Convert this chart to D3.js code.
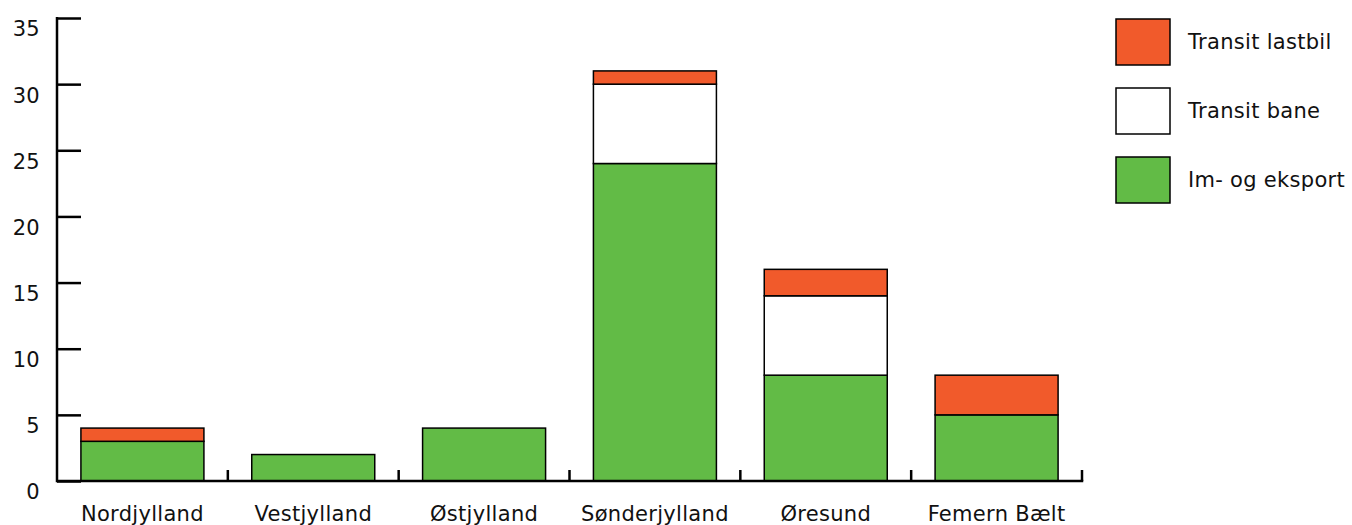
<!DOCTYPE html>
<html>
<head>
<meta charset="utf-8">
<script src="https://cdn.jsdelivr.net/npm/d3@7"></script>
<style>
  html, body { margin: 0; padding: 0; background: #fff; }
  svg { display: block; font-family: "DejaVu Sans", Verdana, sans-serif; letter-spacing: 0.3px; }
</style>
</head>
<body>
<svg id="chart" width="1352" height="525"></svg>
<script>
// Regions along the x axis
const categories = ["Nordjylland", "Vestjylland", "Østjylland", "Sønderjylland", "Øresund", "Femern Bælt"];
// Stacked series, bottom to top
const imEksport      = [3, 2, 4, 24, 8, 5];
const transitBane    = [0, 0, 0, 6, 6, 0];
const transitLastbil = [1, 0, 0, 1, 2, 3];
const seriesNames = ["Im- og eksport", "Transit bane", "Transit lastbil"];
const seriesColors = ["#62BB46", "#FFFFFF", "#F15A2B"];
const yTicks = [0, 5, 10, 15, 20, 25, 30, 35];

const svg = d3.select("#chart");
const margin = { left: 57, right: 270, top: 18, bottom: 44 };
const W = 1352, H = 525;
const fontSize = 21;

const x = d3.scaleBand().domain(categories)
  .range([margin.left, W - margin.right])
  .paddingInner(0.28).paddingOuter(0.14);
const y = d3.scaleLinear().domain([0, 35]).range([H - margin.bottom, margin.top]);

const rows = categories.map((c, i) => ({
  cat: c,
  "Im- og eksport": imEksport[i],
  "Transit bane": transitBane[i],
  "Transit lastbil": transitLastbil[i]
}));
const stack = d3.stack().keys(seriesNames)(rows);

// Bars
svg.append("g").selectAll("g").data(stack).join("g")
  .attr("fill", (d, i) => seriesColors[i])
  .selectAll("rect").data(d => d.filter(p => p[1] - p[0] > 0)).join("rect")
  .attr("x", d => x(d.data.cat))
  .attr("width", x.bandwidth())
  .attr("y", d => y(d[1]))
  .attr("height", d => y(d[0]) - y(d[1]))
  .attr("stroke", "#000")
  .attr("stroke-width", 1.5);

// Y axis with inward ticks, labels sitting slightly below each tick
const yAxis = svg.append("g").attr("transform", `translate(${margin.left},0)`)
  .call(d3.axisRight(y).tickValues(yTicks).tickSize(24).tickFormat(d3.format("d")));
yAxis.select(".domain").remove();
yAxis.selectAll(".tick line").attr("stroke", "#000").attr("stroke-width", 2.5);
yAxis.selectAll(".tick text")
  .attr("x", -17).attr("dy", "0.85em").attr("text-anchor", "end")
  .attr("font-size", fontSize).attr("font-family", "DejaVu Sans, Verdana, sans-serif").attr("fill", "#111");
svg.append("line")
  .attr("x1", margin.left).attr("x2", margin.left)
  .attr("y1", y(35) - 1).attr("y2", y(0) + 1.25)
  .attr("stroke", "#000").attr("stroke-width", 2.5);

// X axis: baseline with short upward ticks at band boundaries
const x0 = margin.left, x1 = W - margin.right;
svg.append("line")
  .attr("x1", x0).attr("x2", x1 + 1.25)
  .attr("y1", y(0)).attr("y2", y(0))
  .attr("stroke", "#000").attr("stroke-width", 2.5);
const step = x.step();
const bounds = d3.range(1, categories.length + 1).map(i => x(categories[i - 1]) + x.bandwidth() + step * x.paddingInner() / 2);
svg.append("g").selectAll("line").data(bounds).join("line")
  .attr("x1", d => d).attr("x2", d => d)
  .attr("y1", y(0)).attr("y2", y(0) - 11)
  .attr("stroke", "#000").attr("stroke-width", 2.5);
svg.append("g").selectAll("text").data(categories).join("text")
  .attr("x", d => x(d) + x.bandwidth() / 2)
  .attr("y", H - 4)
  .attr("text-anchor", "middle")
  .attr("font-size", fontSize).attr("fill", "#111")
  .text(d => d);

// Legend, top item is the top of the stack
const legendItems = [2, 1, 0];
const lg = svg.append("g");
legendItems.forEach((si, k) => {
  const top = 19 + k * 69;
  lg.append("rect").attr("x", 1116).attr("y", top).attr("width", 54).attr("height", 46)
    .attr("fill", seriesColors[si]).attr("stroke", "#000").attr("stroke-width", 1.5);
  lg.append("text").attr("x", 1188).attr("y", top + 23).attr("dy", "0.35em")
    .attr("font-size", fontSize).attr("fill", "#111").text(seriesNames[si]);
});
</script>
</body>
</html>
